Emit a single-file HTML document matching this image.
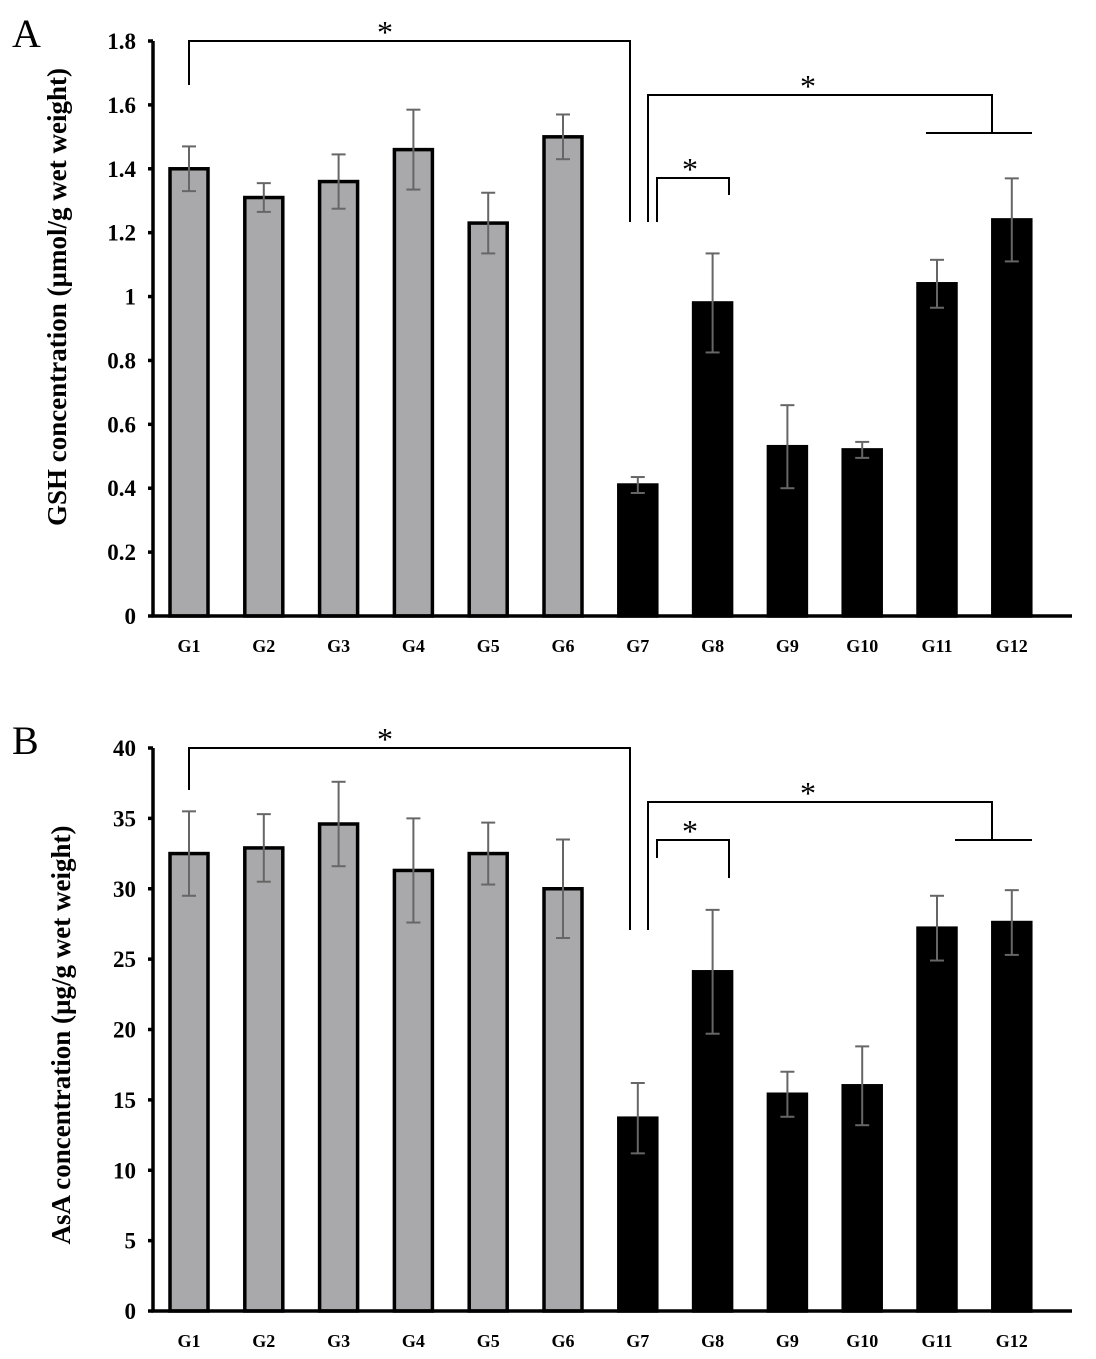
<!DOCTYPE html>
<html><head><meta charset="utf-8"><style>
body{margin:0;background:#fff;}
svg{display:block;font-family:"Liberation Serif",serif;}
</style></head><body>
<svg id="fig" width="1096" height="1359" viewBox="0 0 1096 1359"></svg>
<script>
const categories=["G1","G2","G3","G4","G5","G6","G7","G8","G9","G10","G11","G12"];
const gshValues=[1.40,1.31,1.36,1.46,1.23,1.50,0.41,0.98,0.53,0.52,1.04,1.24];
const gshErrors=[0.07,0.045,0.085,0.125,0.095,0.07,0.025,0.155,0.13,0.025,0.075,0.13];
const gshTicks=[0,0.2,0.4,0.6,0.8,1,1.2,1.4,1.6,1.8];
const asaValues=[32.5,32.9,34.6,31.3,32.5,30.0,13.7,24.1,15.4,16.0,27.2,27.6];
const asaErrors=[3.0,2.4,3.0,3.7,2.2,3.5,2.5,4.4,1.6,2.8,2.3,2.3];
const asaTicks=[0,5,10,15,20,25,30,35,40];
const NS="http://www.w3.org/2000/svg";
const svg=document.getElementById('fig');
function mk(tag,attrs,parent,text){const e=document.createElementNS(NS,tag);for(const k in attrs)e.setAttribute(k,attrs[k]);if(text!==undefined)e.textContent=text;(parent||svg).appendChild(e);return e;}
function panel(cfg){
  const g=mk('g',{});
  
  
  const x0=153,x1=1072,y0=cfg.y0,yTop=cfg.yTop,max=cfg.ticks[cfg.ticks.length-1];
  const Y=v=>y0-(v/max)*(y0-yTop);
  const X=i=>189+i*74.8;
  cfg.values.forEach((v,i)=>{
    const b=mk('rect',{x:X(i)-19,y:Y(v),width:38,height:y0-Y(v),fill:i<6?'#a9a9ab':'#000',stroke:'#000','stroke-width':3.5},g);
    
    
    const e=cfg.errors[i];
    const eg=mk('g',{stroke:'#666','stroke-width':2},g);
    
    
    mk('line',{x1:X(i),x2:X(i),y1:Y(v+e),y2:Y(v-e)},eg);
    mk('line',{x1:X(i)-7,x2:X(i)+7,y1:Y(v+e),y2:Y(v+e)},eg);
    mk('line',{x1:X(i)-7,x2:X(i)+7,y1:Y(v-e),y2:Y(v-e)},eg);
    const t=mk('text',{x:X(i),y:y0+36,'text-anchor':'middle','font-size':18,'font-weight':'bold'},g,categories[i]);
    
    
  });
  const ax=mk('path',{d:`M${x0},${yTop} V${y0} H${x1}`,fill:'none',stroke:'#000','stroke-width':3.5},g);
  
  
  cfg.ticks.forEach(t=>{
    mk('line',{x1:x0-5,x2:x0,y1:Y(t),y2:Y(t),stroke:'#000','stroke-width':3.5},g);
    const l=mk('text',{x:x0-17,y:Y(t)+8,'text-anchor':'end','font-size':23,'font-weight':'bold'},g,String(t));
    
    
  });
  const yt=mk('text',{transform:`translate(${cfg.titleX},${cfg.titleY}) rotate(-90)`,'text-anchor':'middle','font-size':27,'font-weight':'bold'},g,cfg.title);
  
  
  const pl=mk('text',{x:12,y:yTop+6,'font-size':40},g,cfg.letter);
  
  
  const br=mk('g',{fill:'none',stroke:'#000','stroke-width':2},g);
  
  
  const B=cfg.br;
  mk('path',{d:`M189,${B.a[1]} V${B.a[0]} H630 V${B.a[2]}`},br);
  mk('path',{d:`M648,${B.b[2]} V${B.b[0]} H992 V${B.b[1]} M${B.b[3]},${B.b[1]} H1032`},br);
  mk('path',{d:`M657,${B.c[1]} V${B.c[0]} H729 V${B.c[2]}`},br);
  [[385,B.a[0]],[808,B.b[0]],[690,B.c[0]]].forEach(p=>{
    const s=mk('text',{x:p[0],y:p[1]+2,'text-anchor':'middle','font-size':32},g,'*');
    
    
  });
}
panel({name:'panel-a-gsh',letter:'A',y0:616,yTop:41,values:gshValues,errors:gshErrors,ticks:gshTicks,titleX:66,titleY:297,
  title:'GSH concentration (µmol/g wet weight)',br:{a:[41,85,222],b:[95,133,222,926],c:[178,222,195]}});
panel({name:'panel-b-asa',letter:'B',y0:1311,yTop:748,values:asaValues,errors:asaErrors,ticks:asaTicks,titleX:70,titleY:1035,
  title:'AsA concentration (µg/g wet weight)',br:{a:[748,790,930],b:[802,840,930,955],c:[840,858,878]}});
</script>
</body></html>
